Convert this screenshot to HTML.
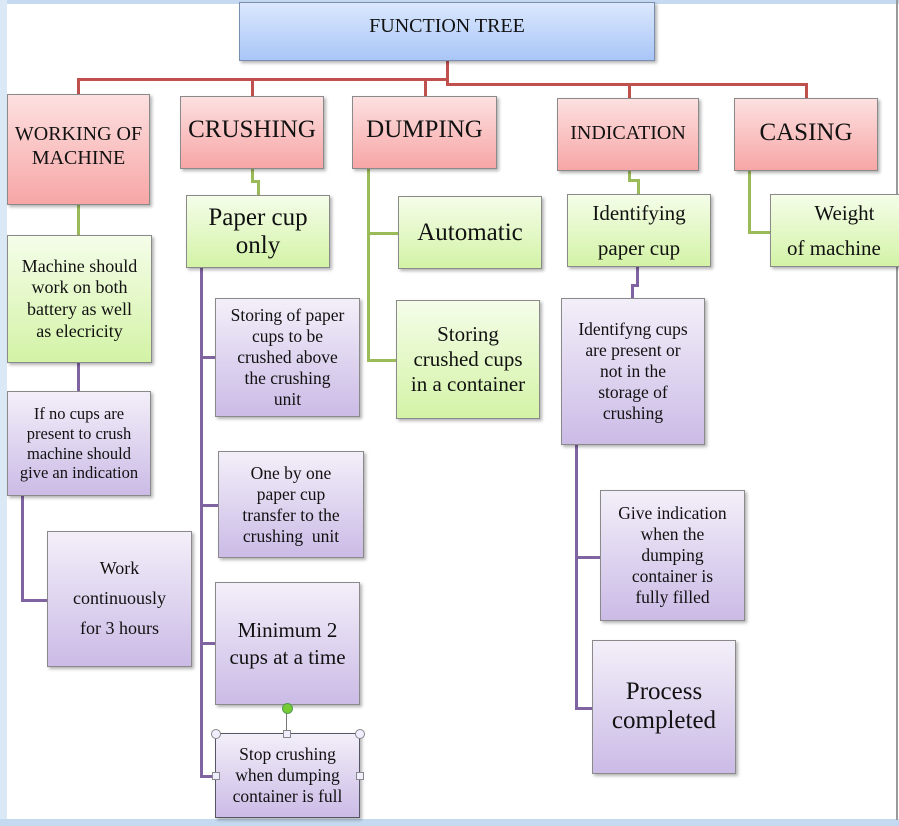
<!DOCTYPE html>
<html><head><style>
body{margin:0;width:899px;height:826px;background:#fff;position:relative;overflow:hidden;font-family:"Liberation Serif",serif;color:#111}
.b{position:absolute;box-sizing:border-box;border:1px solid #8a8a8a;display:flex;align-items:center;justify-content:center;text-align:center;box-shadow:2px 2px 3px rgba(0,0,0,.3);line-height:1.2;white-space:nowrap}
.r{background:linear-gradient(#fde0e0,#f7a6a6)}
.g{background:linear-gradient(#f5fde9,#d3f3a6)}
.p{background:linear-gradient(#f3eff9,#cbbbe6)}
.l{position:absolute}
.rl{background:#c0504d}.gl{background:#9bbb59}.pl{background:#8064a2}
</style></head><body>
<div class="l" style="left:0;top:0;width:899px;height:4px;background:#c5d9f1"></div>
<div class="l" style="left:0;top:0;width:7px;height:826px;background:#dbe8f5"></div>
<div class="l" style="left:0;top:819px;width:899px;height:7px;background:#c5d9f1"></div>
<div class="l" style="left:896px;top:0;width:2px;height:820px;background:#9a9a9a"></div>

<div class="l rl" style="left:446px;top:60px;width:3px;height:26px"></div>
<div class="l rl" style="left:77px;top:78px;width:371px;height:3px"></div>
<div class="l rl" style="left:77px;top:78px;width:3px;height:17px"></div>
<div class="l rl" style="left:251px;top:78px;width:3px;height:18px"></div>
<div class="l rl" style="left:424px;top:78px;width:3px;height:18px"></div>
<div class="l rl" style="left:446px;top:83px;width:361px;height:3px"></div>
<div class="l rl" style="left:628px;top:83px;width:3px;height:15px"></div>
<div class="l rl" style="left:805px;top:83px;width:3px;height:15px"></div>

<div class="l gl" style="left:77px;top:204px;width:3px;height:31px"></div>
<div class="l gl" style="left:251px;top:168px;width:3px;height:14px"></div>
<div class="l gl" style="left:251px;top:180px;width:9px;height:3px"></div>
<div class="l gl" style="left:257px;top:180px;width:3px;height:15px"></div>
<div class="l gl" style="left:367px;top:168px;width:3px;height:194px"></div>
<div class="l gl" style="left:367px;top:232px;width:31px;height:3px"></div>
<div class="l gl" style="left:367px;top:359px;width:30px;height:3px"></div>
<div class="l gl" style="left:628px;top:170px;width:3px;height:11px"></div>
<div class="l gl" style="left:628px;top:179px;width:12px;height:3px"></div>
<div class="l gl" style="left:637px;top:179px;width:3px;height:15px"></div>
<div class="l gl" style="left:748px;top:170px;width:3px;height:64px"></div>
<div class="l gl" style="left:748px;top:231px;width:22px;height:3px"></div>

<div class="l pl" style="left:77px;top:362px;width:3px;height:29px"></div>
<div class="l pl" style="left:21px;top:495px;width:3px;height:107px"></div>
<div class="l pl" style="left:21px;top:599px;width:26px;height:3px"></div>
<div class="l pl" style="left:200px;top:267px;width:3px;height:511px"></div>
<div class="l pl" style="left:200px;top:356px;width:15px;height:3px"></div>
<div class="l pl" style="left:200px;top:504px;width:18px;height:3px"></div>
<div class="l pl" style="left:200px;top:642px;width:15px;height:3px"></div>
<div class="l pl" style="left:200px;top:775px;width:15px;height:3px"></div>
<div class="l pl" style="left:636px;top:266px;width:3px;height:20px"></div>
<div class="l pl" style="left:631px;top:284px;width:8px;height:3px"></div>
<div class="l pl" style="left:631px;top:284px;width:3px;height:14px"></div>
<div class="l pl" style="left:575px;top:444px;width:3px;height:266px"></div>
<div class="l pl" style="left:575px;top:556px;width:25px;height:3px"></div>
<div class="l pl" style="left:575px;top:707px;width:17px;height:3px"></div>

<div class="b" style="left:239px;top:2px;width:416px;height:59px;background:linear-gradient(#dbe8fd,#a9c6f7);align-items:flex-start;padding-top:11px;font-size:20px;border-color:#7a8fb0">FUNCTION TREE</div>

<div class="b r" style="left:7px;top:94px;width:143px;height:111px;font-size:20px;padding-bottom:8px">WORKING OF<br>MACHINE</div>
<div class="b r" style="left:180px;top:96px;width:144px;height:73px;font-size:25px;padding-bottom:6px">CRUSHING</div>
<div class="b r" style="left:352px;top:96px;width:145px;height:73px;font-size:25px;padding-bottom:6px">DUMPING</div>
<div class="b r" style="left:557px;top:98px;width:142px;height:73px;font-size:20px;padding-bottom:4px">INDICATION</div>
<div class="b r" style="left:734px;top:98px;width:144px;height:73px;font-size:25px;padding-bottom:4px">CASING</div>

<div class="b g" style="left:7px;top:235px;width:145px;height:128px;font-size:18px;line-height:1.2">Machine should<br>work on both<br>battery as well<br>as elecricity</div>
<div class="b g" style="left:186px;top:195px;width:144px;height:73px;font-size:25px;line-height:1.1">Paper cup<br>only</div>
<div class="b g" style="left:398px;top:196px;width:144px;height:73px;font-size:25px">Automatic</div>
<div class="b g" style="left:396px;top:300px;width:144px;height:119px;font-size:21px;line-height:1.2">Storing<br>crushed cups<br>in a container</div>
<div class="b g" style="left:567px;top:194px;width:144px;height:73px;font-size:21px;line-height:1.65">Identifying<br>paper cup</div>
<div class="b g" style="left:770px;top:194px;width:132px;height:73px;font-size:21px;line-height:1.65;justify-content:flex-start;padding-left:16px">&nbsp;&nbsp;&nbsp;&nbsp;Weight<br>of machine</div>

<div class="b p" style="left:7px;top:391px;width:144px;height:105px;font-size:16.5px;line-height:1.2">If no cups are<br>present to crush<br>machine should<br>give an indication</div>
<div class="b p" style="left:47px;top:531px;width:145px;height:136px;font-size:18px;line-height:1.65">Work<br>continuously<br>for 3 hours</div>
<div class="b p" style="left:215px;top:298px;width:145px;height:119px;font-size:17.5px;line-height:1.2">Storing of paper<br>cups to be<br>crushed above<br>the crushing<br>unit</div>
<div class="b p" style="left:218px;top:451px;width:146px;height:107px;font-size:17.5px;line-height:1.2">One by one<br>paper cup<br>transfer to the<br>crushing&nbsp; unit</div>
<div class="b p" style="left:215px;top:582px;width:145px;height:123px;font-size:21px;line-height:1.25">Minimum 2<br>cups at a time</div>
<div class="b p" style="left:215px;top:733px;width:145px;height:85px;font-size:17.5px;border-color:#556;line-height:1.2">Stop crushing<br>when dumping<br>container is full</div>
<div class="b p" style="left:561px;top:298px;width:144px;height:147px;font-size:17.5px;line-height:1.2">Identifyng cups<br>are present or<br>not in the<br>storage of<br>crushing</div>
<div class="b p" style="left:600px;top:490px;width:145px;height:131px;font-size:17.5px;line-height:1.2">Give indication<br>when the<br>dumping<br>container is<br>fully filled</div>
<div class="b p" style="left:592px;top:640px;width:144px;height:134px;font-size:25px;line-height:1.15">Process<br>completed</div>

<div class="l" style="left:286px;top:706px;width:1px;height:28px;background:#777"></div>
<div class="l" style="left:282px;top:703px;width:9px;height:9px;border-radius:50%;background:#7c3;border:1px solid #595"></div>
<div class="l" style="left:211px;top:729px;width:8px;height:8px;border-radius:50%;background:#eef;border:1px solid #888"></div>
<div class="l" style="left:355px;top:729px;width:8px;height:8px;border-radius:50%;background:#eef;border:1px solid #888"></div>
<div class="l" style="left:283px;top:730px;width:6px;height:6px;background:#eef;border:1px solid #888"></div>
<div class="l" style="left:212px;top:772px;width:6px;height:6px;background:#eef;border:1px solid #888"></div>
<div class="l" style="left:356px;top:772px;width:6px;height:6px;background:#eef;border:1px solid #888"></div>
</body></html>
